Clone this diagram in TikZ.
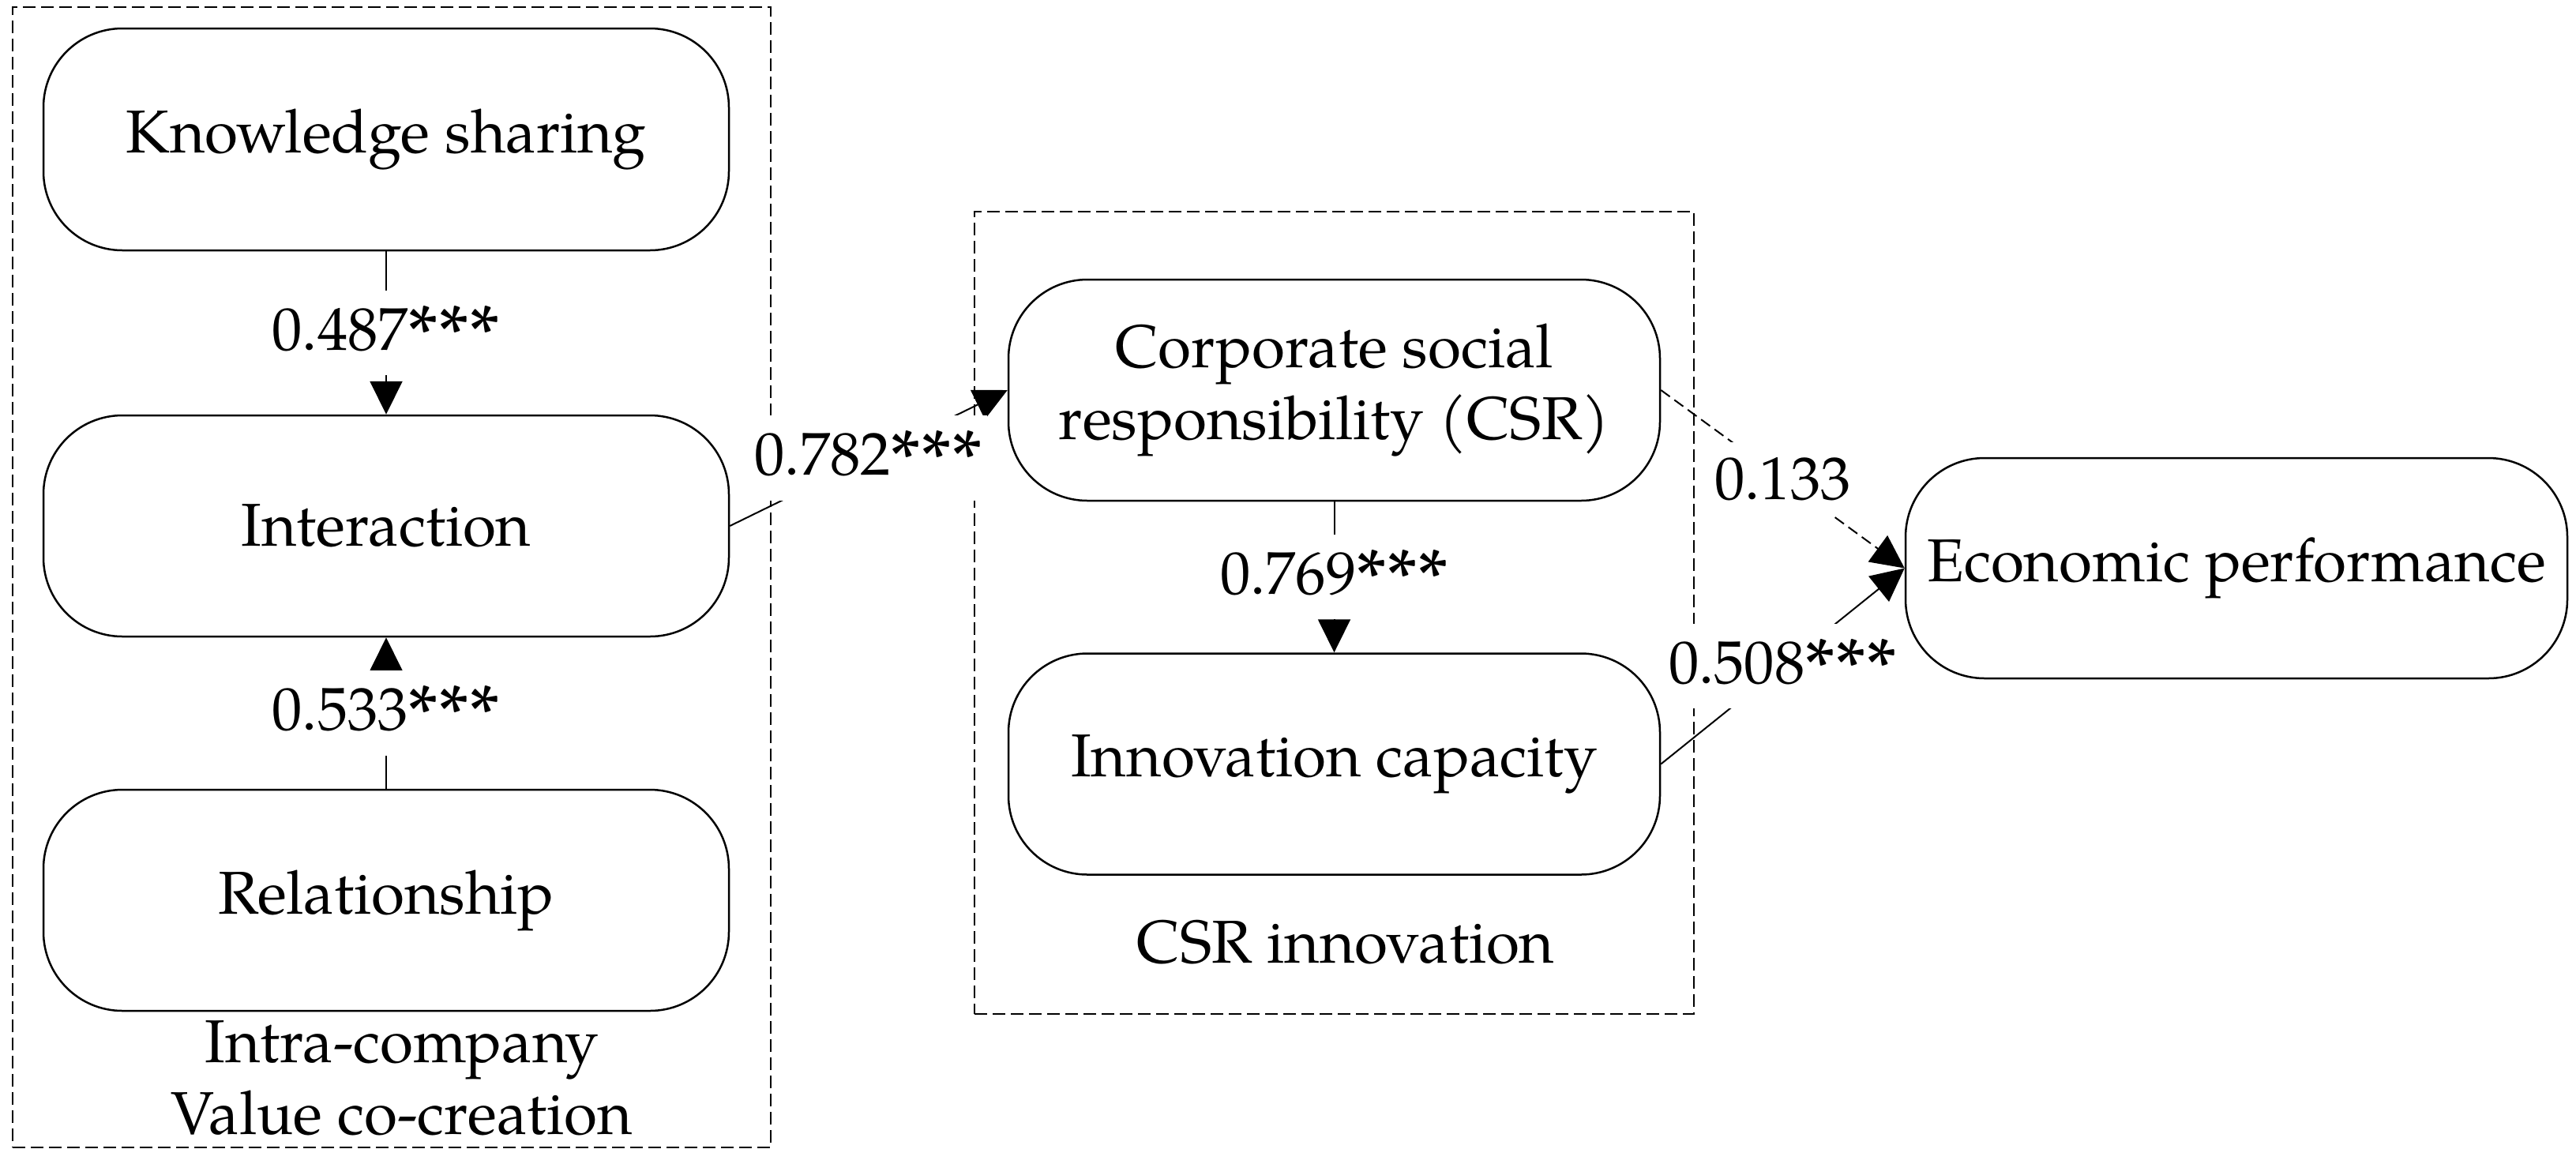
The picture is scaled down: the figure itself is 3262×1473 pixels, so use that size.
\documentclass[tikz,border=0pt]{standalone}
\usepackage{fontspec}
\usepackage{graphicx}
\setmainfont{TeX Gyre Pagella}
\usetikzlibrary{arrows.meta}
\newcommand{\sigstars}{\raisebox{-0.17em}{\scalebox{1.3}{***}}}
\begin{document}
\begin{tikzpicture}[x=0.1mm,y=-0.1mm,
  every node/.style={font=\fontsize{21.8}{26}\selectfont, align=center},
  concept/.style={draw, line width=0.25mm, rounded corners=10mm, inner sep=0pt, fill=white},
  group/.style={draw, line width=0.18mm, dash pattern=on 1.6mm off 0.7mm, inner sep=0pt},
  coef/.style={fill=white, inner xsep=0.6mm, inner ysep=1.9mm},
  arr/.style={line width=0.2mm, -{Triangle[length=4.2mm,width=4.1mm]}},
  dsh/.style={dash pattern=on 1.4mm off 0.7mm}
]
\useasboundingbox (0,0) rectangle (3262,1473);
% groups
\node[group, minimum width=96mm, minimum height=144.4mm] (g1) at (496,731) {};
\node[group, minimum width=91.1mm, minimum height=101.6mm] (g2) at (1689.5,776) {};
\node (g1lab) at (509,1365) {Intra-company\\Value co-creation};
\node (g2lab) at (1704,1193) {CSR innovation};
% concepts
\node[concept, minimum width=86.8mm, minimum height=28.1mm] (ks) at (489,176.5) {Knowledge sharing};
\node[concept, minimum width=86.8mm, minimum height=28mm] (int) at (489,666) {Interaction};
\node[concept, minimum width=86.8mm, minimum height=28mm] (rel) at (489,1140) {Relationship};
\node[concept, minimum width=82.5mm, minimum height=28mm] (csr) at (1689.5,494) {Corporate social\\responsibility (CSR)};
\node[concept, minimum width=82.5mm, minimum height=28mm] (inn) at (1689.5,967.5) {Innovation capacity};
\node[concept, minimum width=83.8mm, minimum height=27.9mm] (eco) at (2832,719.5) {Economic performance};
% paths
\draw[arr] (ks) -- node[coef]{0.487\sigstars} (int);
\draw[arr] (rel) -- node[coef]{0.533\sigstars} (int);
\draw[arr] (int.east) -- node[coef]{0.782\sigstars} (csr.west);
\draw[arr] (csr) -- node[coef]{0.769\sigstars} (inn);
\draw[arr, dsh] (csr.east) -- node[coef]{0.133} (eco.west);
\draw[arr] (inn.east) -- node[coef]{0.508\sigstars} (eco.west);
\end{tikzpicture}
\end{document}
